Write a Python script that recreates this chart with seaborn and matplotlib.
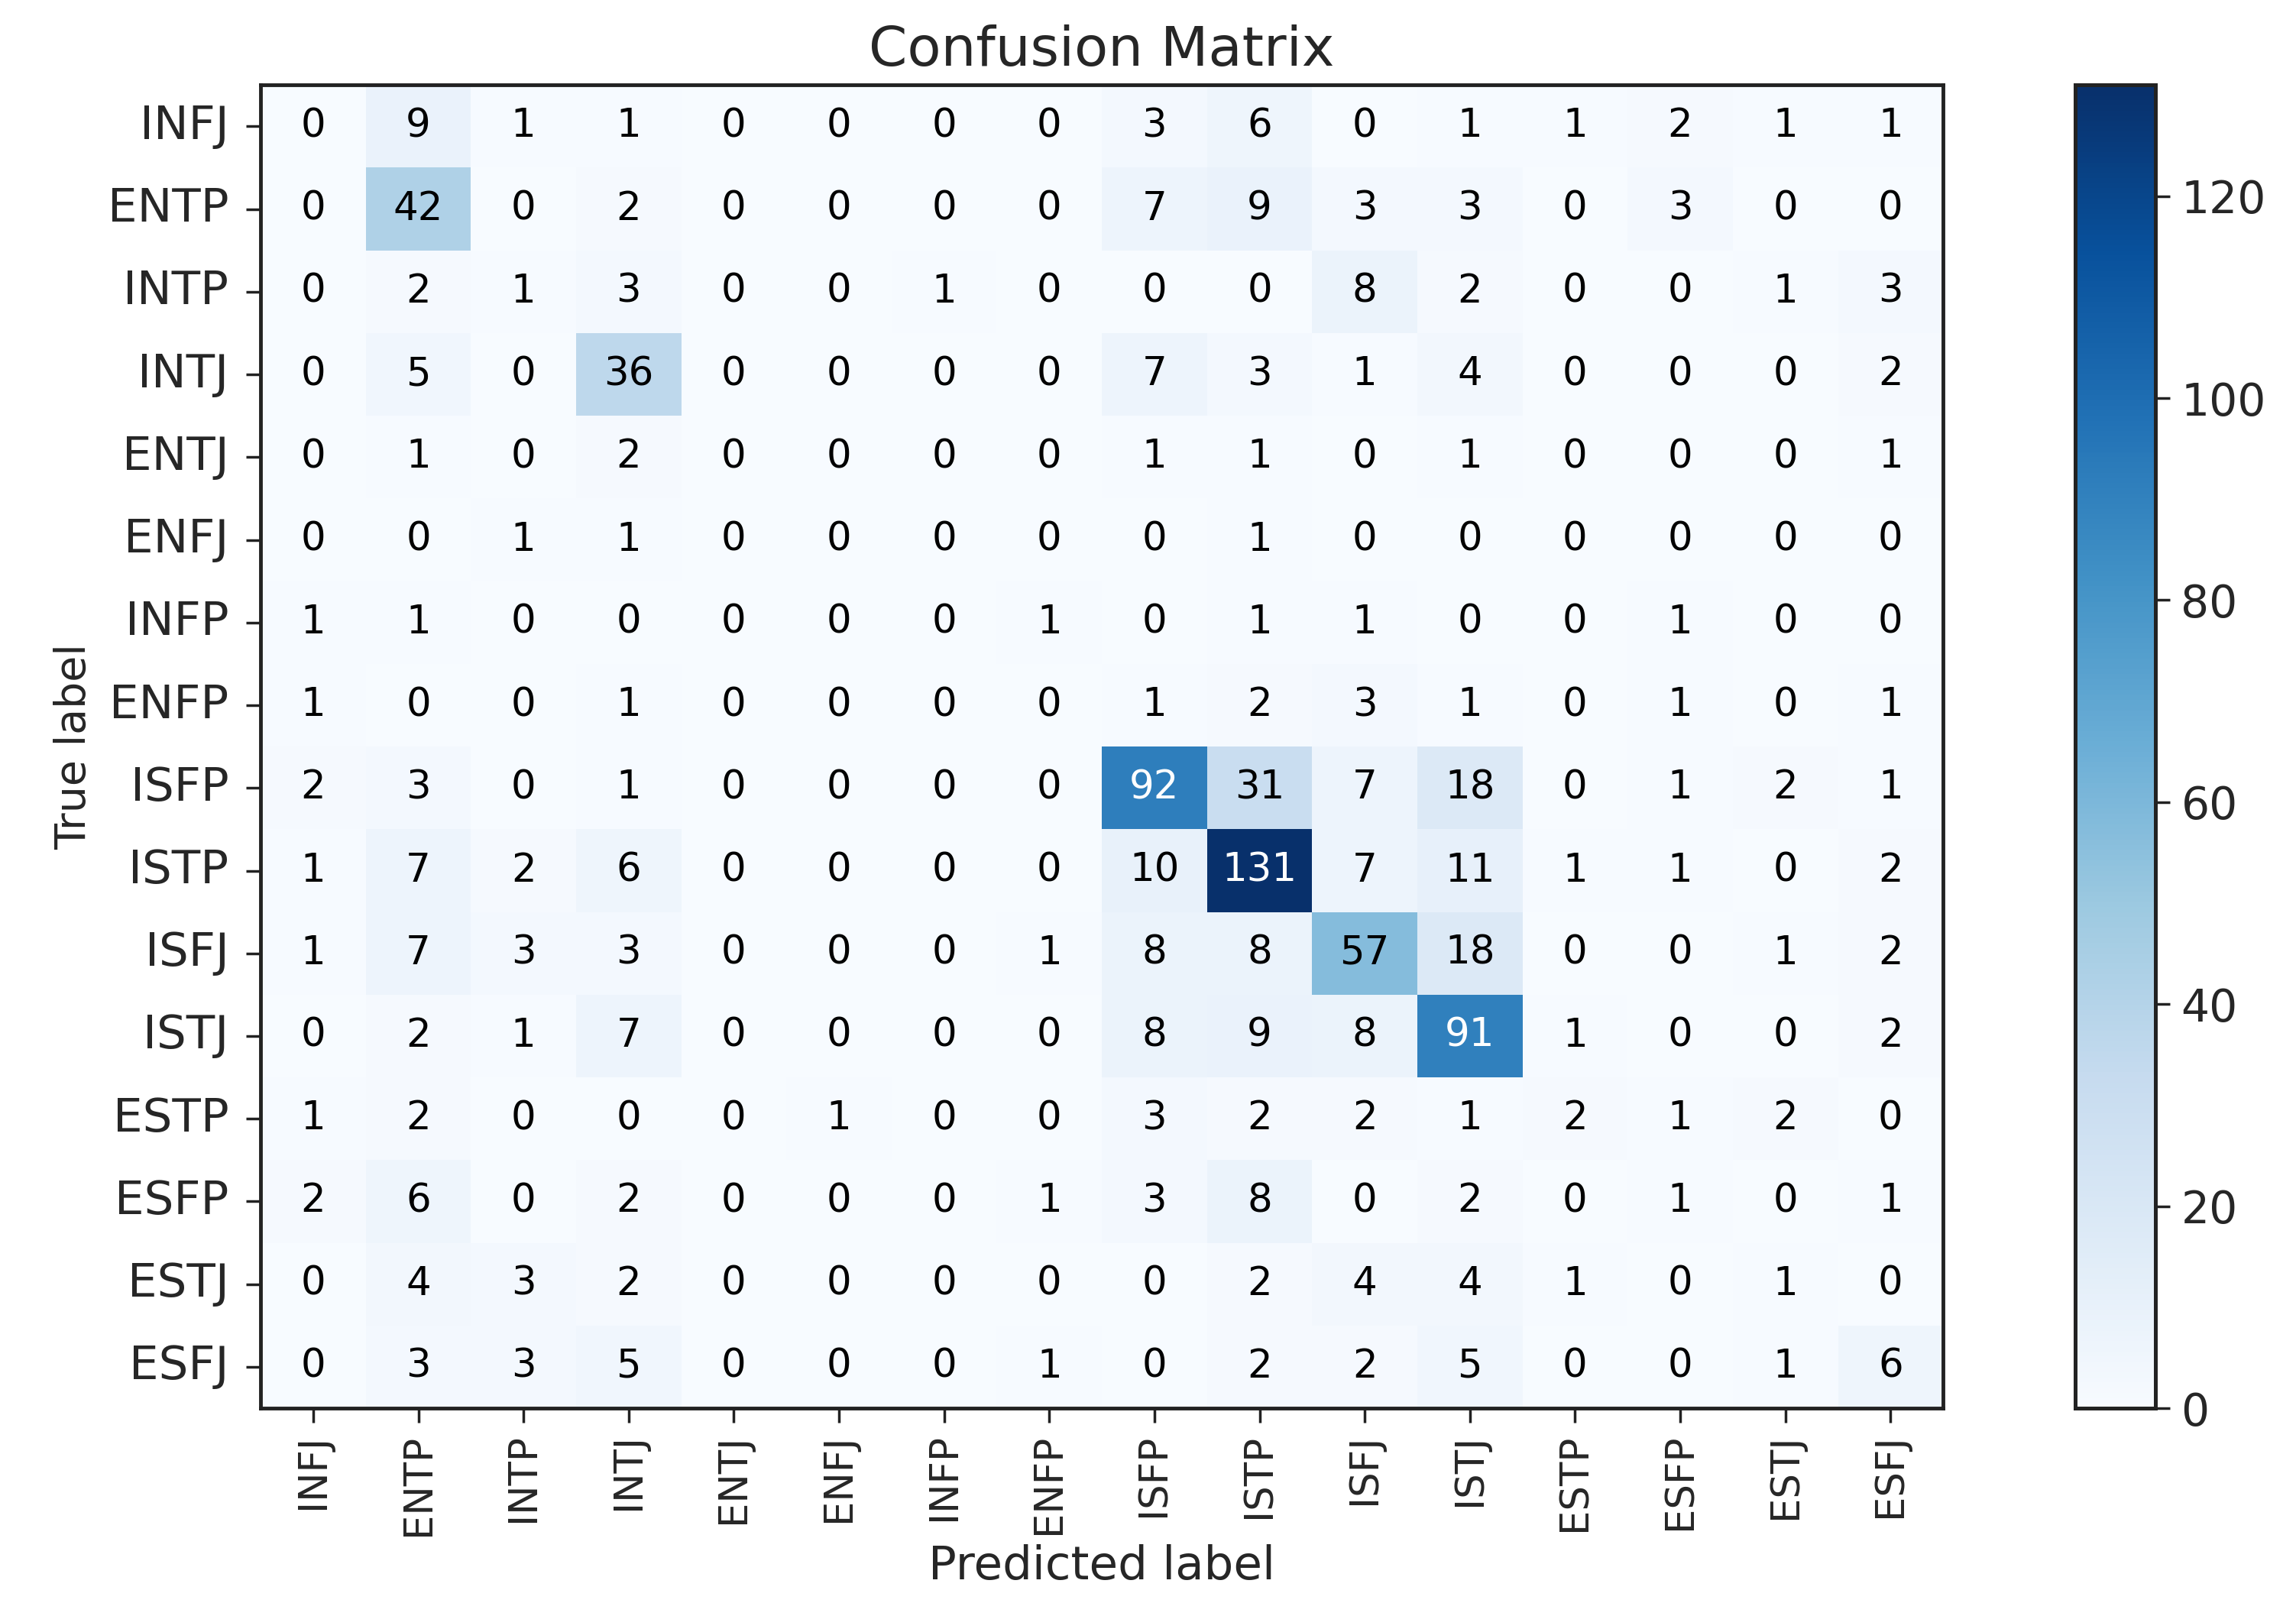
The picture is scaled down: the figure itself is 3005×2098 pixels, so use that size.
import numpy as np
import pandas as pd
import seaborn as sns
from matplotlib import pyplot as plt

labels = ['INFJ', 'ENTP', 'INTP', 'INTJ', 'ENTJ', 'ENFJ', 'INFP', 'ENFP',
          'ISFP', 'ISTP', 'ISFJ', 'ISTJ', 'ESTP', 'ESFP', 'ESTJ', 'ESFJ']

# one list per true label (rows), columns are predicted labels
row_infj = [0, 9, 1, 1, 0, 0, 0, 0, 3, 6, 0, 1, 1, 2, 1, 1]
row_entp = [0, 42, 0, 2, 0, 0, 0, 0, 7, 9, 3, 3, 0, 3, 0, 0]
row_intp = [0, 2, 1, 3, 0, 0, 1, 0, 0, 0, 8, 2, 0, 0, 1, 3]
row_intj = [0, 5, 0, 36, 0, 0, 0, 0, 7, 3, 1, 4, 0, 0, 0, 2]
row_entj = [0, 1, 0, 2, 0, 0, 0, 0, 1, 1, 0, 1, 0, 0, 0, 1]
row_enfj = [0, 0, 1, 1, 0, 0, 0, 0, 0, 1, 0, 0, 0, 0, 0, 0]
row_infp = [1, 1, 0, 0, 0, 0, 0, 1, 0, 1, 1, 0, 0, 1, 0, 0]
row_enfp = [1, 0, 0, 1, 0, 0, 0, 0, 1, 2, 3, 1, 0, 1, 0, 1]
row_isfp = [2, 3, 0, 1, 0, 0, 0, 0, 92, 31, 7, 18, 0, 1, 2, 1]
row_istp = [1, 7, 2, 6, 0, 0, 0, 0, 10, 131, 7, 11, 1, 1, 0, 2]
row_isfj = [1, 7, 3, 3, 0, 0, 0, 1, 8, 8, 57, 18, 0, 0, 1, 2]
row_istj = [0, 2, 1, 7, 0, 0, 0, 0, 8, 9, 8, 91, 1, 0, 0, 2]
row_estp = [1, 2, 0, 0, 0, 1, 0, 0, 3, 2, 2, 1, 2, 1, 2, 0]
row_esfp = [2, 6, 0, 2, 0, 0, 0, 1, 3, 8, 0, 2, 0, 1, 0, 1]
row_estj = [0, 4, 3, 2, 0, 0, 0, 0, 0, 2, 4, 4, 1, 0, 1, 0]
row_esfj = [0, 3, 3, 5, 0, 0, 0, 1, 0, 2, 2, 5, 0, 0, 1, 6]

cm = pd.DataFrame([row_infj, row_entp, row_intp, row_intj, row_entj, row_enfj,
                   row_infp, row_enfp, row_isfp, row_istp, row_isfj, row_istj,
                   row_estp, row_esfp, row_estj, row_esfj],
                  index=labels, columns=labels)

sns.set_style('white')
plt.rcParams['font.family'] = ['DejaVu Sans']

fig = plt.figure(figsize=(30.05, 20.98), dpi=100)
ax = fig.add_axes([0.1135, 0.1215, 0.7328, 0.8255])
cax = fig.add_axes([0.9037, 0.1215, 0.0351, 0.8255])

hm = sns.heatmap(cm, ax=ax, cbar_ax=cax, cmap='Blues', annot=True, fmt='d',
                 vmin=0, vmax=cm.values.max(),
                 annot_kws={'fontsize': 37})

# text colour like sklearn: white above half of max
thresh = cm.values.max() / 2.0
for t, v in zip(hm.texts, cm.values.ravel()):
    t.set_color('white' if v > thresh else 'black')

for s in ax.spines.values():
    s.set_visible(True)
    s.set_linewidth(3.5)
    s.set_color('#222222')

ax.tick_params(axis='both', which='both', left=True, bottom=True,
               length=14, width=2.5, color='#222222')
ax.tick_params(axis='y', labelsize=44, pad=16)
ax.tick_params(axis='x', labelsize=37, pad=10)
ax.set_xticklabels(labels, rotation=90)
ax.set_yticklabels(labels, rotation=0)

ax.set_title('Confusion Matrix', fontsize=52, pad=18)
ax.set_xlabel('Predicted label', fontsize=44, labelpad=8)
ax.set_ylabel('True label', fontsize=40, labelpad=12)

cax.set_yticks([0, 20, 40, 60, 80, 100, 120])
cax.tick_params(right=True, labelsize=42, length=14, width=2.5,
                color='#222222', pad=10)
for s in cax.spines.values():
    s.set_visible(True)
    s.set_linewidth(3.5)
    s.set_color('#222222')

plt.savefig('out.png', dpi=100)
